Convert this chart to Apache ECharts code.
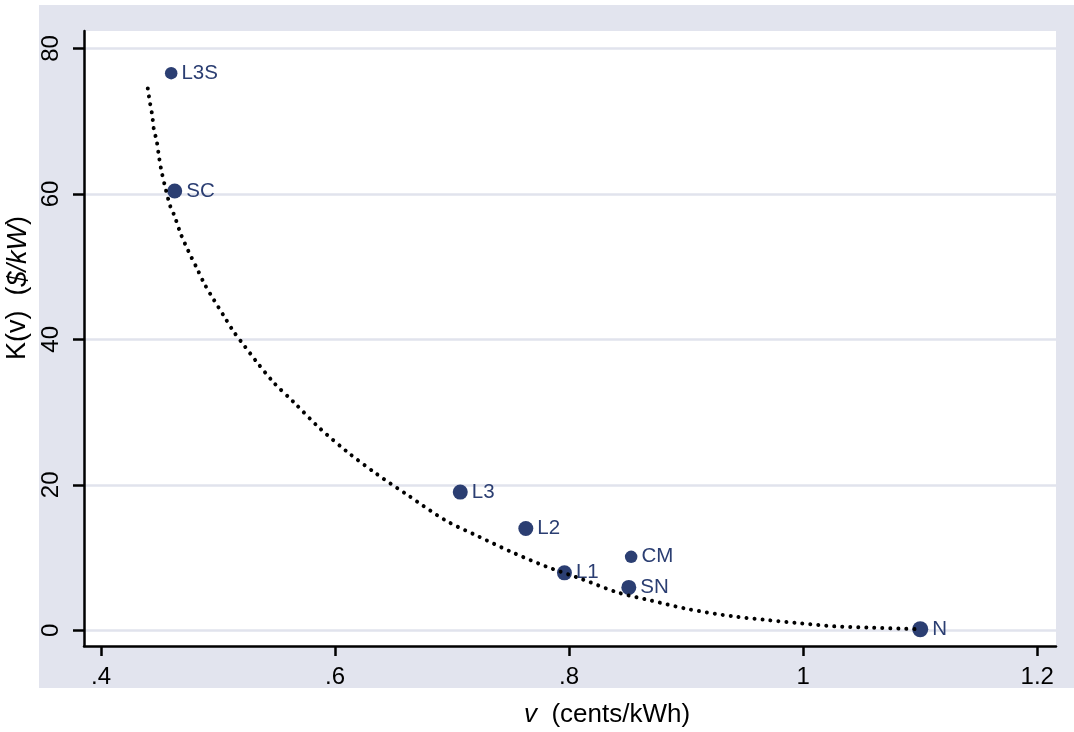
<!DOCTYPE html>
<html>
<head>
<meta charset="utf-8">
<script src="https://cdn.jsdelivr.net/npm/echarts@6/dist/echarts.min.js"></script>
<style>
  html, body { margin: 0; padding: 0; background: #ffffff; }
  #chart { width: 1074px; height: 732px; }
</style>
</head>
<body>
<div id="chart"></div>
<script>
// Technologies: variable cost v (cents/kWh) and capital cost K(v) ($/kW)
const pointNames = ['L3S', 'SC', 'L3', 'L2', 'L1', 'CM', 'SN', 'N'];
const pointV     = [0.460, 0.463, 0.707, 0.763, 0.796, 0.853, 0.851, 1.100];
const pointK     = [76.6, 60.4, 19.0, 14.0, 7.9, 10.1, 5.9, 0.14];
const pointSize  = [12.5, 15, 15, 15, 15, 12.5, 15, 16];

// Fitted frontier K(v)
const curveV = [0.440, 0.4417, 0.4438, 0.4451, 0.4477, 0.4494, 0.4515, 0.4551, 0.4594, 0.4628,
                0.4679, 0.4748, 0.4816, 0.4885, 0.4962, 0.5047, 0.5132, 0.5226, 0.5321, 0.5474,
                0.5645, 0.5868, 0.6107, 0.6355, 0.6620, 0.6945, 0.7226, 0.7517, 0.7799, 0.8115,
                0.8415, 0.8697, 0.9021, 0.9406, 0.9697, 0.9979, 1.0261, 1.0551, 1.0833, 1.1004];
const curveK = [74.5, 72.7, 70.8, 69.0, 67.2, 65.3, 63.3, 60.8, 58.2, 57.0,
                54.6, 52.1, 49.9, 47.6, 45.5, 43.3, 41.1, 39.1, 37.1, 34.1,
                31.4, 27.8, 24.5, 21.5, 18.6, 15.1, 12.9, 10.7, 8.8, 7.0,
                5.2, 4.1, 2.9, 1.9, 1.4, 0.96, 0.55, 0.38, 0.22, 0.14];

// Axis ticks
const xTicks = [0.4, 0.6, 0.8, 1.0, 1.2];
const xTickLabels = ['.4', '.6', '.8', '1', '1.2'];
const yTicks = [0, 20, 40, 60, 80];
const yTickLabels = ['0', '20', '40', '60', '80'];

const FONT = "'Liberation Sans', Arial, Helvetica, sans-serif";
const NAVY = '#2b3e72';
const PANEL = '#e2e4ee';

const chart = echarts.init(document.getElementById('chart'), null, { renderer: 'canvas' });

const scatterData = pointV.map((v, i) => [v, pointK[i]]);
const curveData = curveV.map((v, i) => [v, curveK[i]]);

chart.setOption({
  animation: false,
  backgroundColor: '#ffffff',
  graphic: [
    {
      type: 'rect',
      z: -10,
      silent: true,
      shape: { x: 39, y: 5, width: 1035, height: 683 },
      style: { fill: PANEL }
    },
    {
      type: 'text',
      silent: true,
      x: 607, y: 715,
      style: {
        text: '{i|v}  (cents/kWh)',
        font: '26px ' + FONT,
        fill: '#000',
        align: 'center',
        verticalAlign: 'middle',
        rich: {
          i: { fontStyle: 'italic', fontSize: 26, fontFamily: FONT, fill: '#000' }
        }
      }
    },
    {
      type: 'text',
      silent: true,
      x: 18, y: 288,
      rotation: Math.PI / 2,
      style: {
        text: 'K(v)  ({i|$/kW})',
        font: '27px ' + FONT,
        fill: '#000',
        align: 'center',
        verticalAlign: 'middle',
        rich: {
          i: { fontStyle: 'italic', fontSize: 27, fontFamily: FONT, fill: '#000' }
        }
      }
    }
  ],
  grid: {
    left: 84, right: 18, top: 31, bottom: 86,
    show: true,
    backgroundColor: '#ffffff',
    borderWidth: 0
  },
  xAxis: {
    type: 'value',
    min: 0.3855,
    max: 1.216,
    axisLine: { show: true, onZero: false, lineStyle: { color: '#000', width: 2.5 } },
    axisTick: { show: true, customValues: xTicks, length: 10, lineStyle: { color: '#000', width: 2.5 } },
    axisLabel: {
      customValues: xTicks,
      formatter: v => xTickLabels[xTicks.findIndex(t => Math.abs(t - v) < 1e-6)],
      color: '#000', fontSize: 24, fontFamily: FONT, margin: 19
    },
    splitLine: { show: false }
  },
  yAxis: {
    type: 'value',
    min: -2.16,
    max: 82.4,
    axisLine: { show: true, onZero: false, lineStyle: { color: '#000', width: 2.5 } },
    axisTick: { show: true, customValues: yTicks, length: 11, lineStyle: { color: '#000', width: 2.5 } },
    axisLabel: {
      customValues: yTicks,
      formatter: v => yTickLabels[yTicks.findIndex(t => Math.abs(t - v) < 1e-6)],
      rotate: 90,
      color: '#000', fontSize: 24, fontFamily: FONT, margin: 21
    },
    splitLine: { show: true, lineStyle: { color: '#e1e3ed', width: 2.5 } }
  },
  series: [
    {
      type: 'scatter',
      z: 2,
      data: scatterData,
      symbol: 'circle',
      symbolSize: (val, params) => pointSize[params.dataIndex],
      itemStyle: { color: NAVY, opacity: 1 },
      label: {
        show: true,
        position: 'right',
        distance: 4,
        formatter: p => pointNames[p.dataIndex],
        color: NAVY,
        fontSize: 20.5,
        fontFamily: FONT
      }
    },
    {
      type: 'line',
      z: 3,
      data: curveData,
      smooth: 0.3,
      showSymbol: false,
      symbol: 'none',
      lineStyle: { color: '#000', width: 4, type: [0.01, 8], cap: 'round' }
    }
  ]
});
</script>
</body>
</html>
